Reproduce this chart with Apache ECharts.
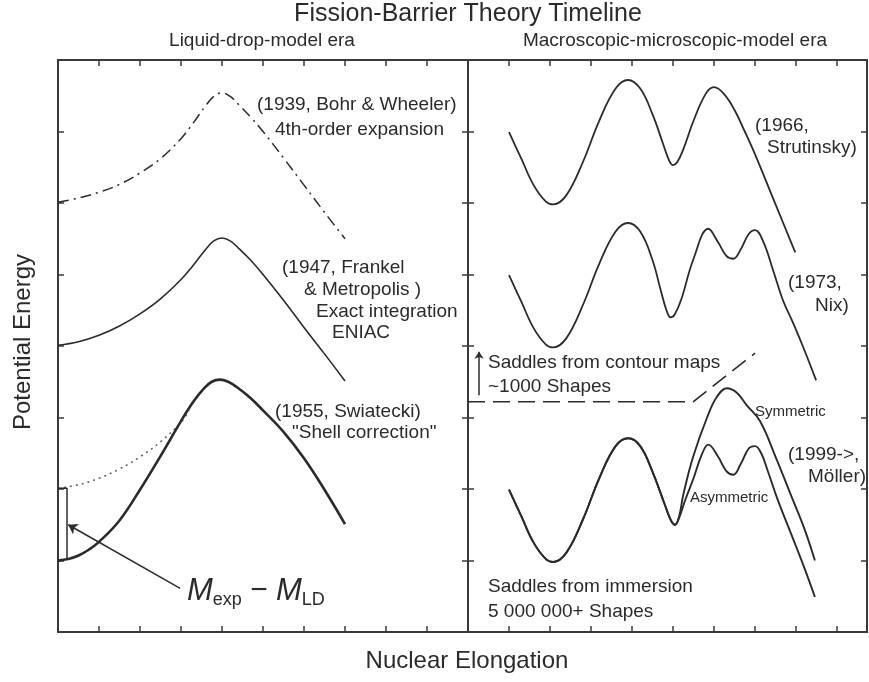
<!DOCTYPE html>
<html><head><meta charset="utf-8">
<script src="https://cdn.jsdelivr.net/npm/echarts@6/dist/echarts.min.js"></script>
<style>html,body{margin:0;padding:0;background:#fff}#c{width:869px;height:682px}</style>
</head><body><div id="c"></div>
<script>
// ---------- data (x in tick units, y in tick units) ----------
const bwX  = [0,0.5,1,1.5,2,2.5,3,3.3,3.6,3.8,4,4.2,4.4,4.7,5,5.5,6,6.5,7];
const bwY  = [6.01,6.07,6.15,6.26,6.42,6.62,6.9,7.12,7.36,7.49,7.54,7.49,7.38,7.2,7.0,6.63,6.25,5.87,5.5];
const fmX  = [0,0.5,1,1.5,2,2.5,3,3.3,3.6,3.8,4,4.2,4.4,4.7,5,5.5,6,6.5,7];
const fmY  = [4.01,4.06,4.15,4.28,4.45,4.66,4.93,5.13,5.35,5.47,5.51,5.47,5.37,5.2,5.0,4.64,4.26,3.89,3.51];
const swX  = [0,0.25,0.5,0.75,1,1.5,2,2.5,3,3.3,3.55,3.75,3.95,4.15,4.35,4.68,5,5.5,6,6.5,7];
const swY  = [1.0,1.02,1.07,1.15,1.26,1.56,1.99,2.46,2.95,3.22,3.4,3.5,3.53,3.5,3.43,3.28,3.1,2.8,2.43,1.99,1.51];
const ldX  = [0,0.5,1,1.5,2,2.5,3,3.2];
const ldY  = [2.01,2.06,2.15,2.28,2.45,2.66,2.93,3.1];
const brX  = [0,0.22,0.22];
const brY  = [2.01,2.01,1.03];
const mArrowX = [2.98,0.25];
const mArrowY = [0.61,1.5];

const stX = [1.0,1.3,1.6,1.9,2.08,2.4,2.8,3.2,3.6,3.9,4.2,4.5,4.75,4.9,5.0,5.1,5.25,5.5,5.8,6.0,6.25,6.5,6.75,7.0,7.5,7.98];
const stY = [6.99,6.62,6.25,6.02,5.98,6.11,6.57,7.15,7.6,7.72,7.6,7.24,6.84,6.6,6.53,6.57,6.75,7.15,7.53,7.62,7.52,7.3,7.0,6.68,5.98,5.31];
const nxX = [1.0,1.3,1.6,1.9,2.08,2.4,2.8,3.2,3.6,3.9,4.2,4.5,4.7,4.84,4.94,5.04,5.2,5.5,5.86,6.1,6.3,6.47,6.65,6.85,7.0,7.2,7.44,7.68,7.93,8.17,8.49];
const nxY = [4.99,4.62,4.25,4.02,3.98,4.11,4.57,5.15,5.6,5.72,5.6,5.2,4.78,4.5,4.4,4.44,4.65,5.22,5.64,5.45,5.26,5.22,5.35,5.57,5.62,5.46,5.06,4.64,4.32,3.99,3.52];
const symX = [1.0,1.3,1.6,1.9,2.08,2.4,2.8,3.2,3.6,3.91,4.2,4.5,4.8,4.95,5.05,5.15,5.25,5.49,5.83,6.07,6.31,6.55,6.8,7.12,7.5,7.9,8.2,8.46];
const symY = [1.99,1.62,1.25,1.02,0.98,1.11,1.57,2.15,2.6,2.71,2.6,2.24,1.78,1.56,1.5,1.62,1.92,2.45,3.0,3.29,3.41,3.35,3.17,2.95,2.45,1.88,1.45,1.0];
const asyX = [1.0,1.3,1.6,1.9,2.08,2.4,2.8,3.2,3.6,3.91,4.2,4.5,4.8,4.95,5.05,5.15,5.3,5.5,5.7,5.86,6.1,6.3,6.47,6.65,6.85,7.0,7.15,7.3,7.54,7.93,8.2,8.46];
const asyY = [1.99,1.62,1.25,1.02,0.98,1.11,1.57,2.15,2.6,2.71,2.6,2.24,1.78,1.56,1.5,1.6,1.85,2.15,2.48,2.62,2.45,2.25,2.2,2.35,2.57,2.6,2.5,2.27,1.87,1.3,0.9,0.49];
const cmX = [0,5.49,7.0];
const cmY = [3.22,3.22,3.9];
const upArrowX = [0.27,0.27];
const upArrowY = [3.31,3.92];

const leftXMax = 10, rightXMax = 9.73, yMax = 8;

// ---------- helpers ----------
const INK = '#2b2b2b';
const FF = '"Liberation Sans", Arial, Helvetica, sans-serif';
const zip = (xs, ys) => xs.map((x, i) => [x, ys[i]]);
function ax(g, pos, max) {
  return {
    type: 'value', gridIndex: g, position: pos, min: 0, max: max, interval: 1,
    axisLine: {show: true, onZero: false, lineStyle: {color: '#3a3a3a', width: 2}},
    axisTick: {show: true, inside: true, length: 6, lineStyle: {color: '#3a3a3a', width: 1.5}},
    axisLabel: {show: false}, splitLine: {show: false}
  };
}
function line(g, xs, ys, ls, smooth) {
  return {
    type: 'line', xAxisIndex: g * 2, yAxisIndex: g * 2, data: zip(xs, ys),
    showSymbol: false, symbol: 'none', smooth: smooth === undefined ? 0.4 : smooth,
    lineStyle: Object.assign({color: INK, width: 1.6}, ls), silent: true, z: 3
  };
}
function arrow(g, xs, ys, size) {
  return {
    type: 'lines', coordinateSystem: 'cartesian2d', xAxisIndex: g * 2, yAxisIndex: g * 2,
    symbol: ['none', 'arrow'], symbolSize: size, silent: true,
    lineStyle: {color: INK, width: 1.5, curveness: 0, opacity: 1},
    data: [{coords: zip(xs, ys)}]
  };
}
function T(text, x, y, size, align, extra) {
  return Object.assign({
    type: 'text', x: x, y: y, silent: true,
    style: {text: text, fontSize: size, fontFamily: FF, fill: INK,
            align: align || 'left', verticalAlign: 'middle'}
  }, extra || {});
}

const chart = echarts.init(document.getElementById('c'), null, {renderer: 'canvas'});
chart.setOption({
  animation: false,
  backgroundColor: '#fff',
  grid: [
    {left: 58, top: 60, width: 410, height: 572},
    {left: 468, top: 60, width: 399, height: 572}
  ],
  xAxis: [ax(0, 'bottom', leftXMax), ax(0, 'top', leftXMax),
          ax(1, 'bottom', rightXMax), ax(1, 'top', rightXMax)],
  yAxis: [ax(0, 'left', yMax), ax(0, 'right', yMax),
          ax(1, 'left', yMax), ax(1, 'right', yMax)],
  series: [
    line(0, bwX, bwY, {type: [11, 5, 2, 5], width: 1.5}),
    line(0, fmX, fmY, {width: 1.6}),
    line(0, ldX, ldY, {type: [2, 4], width: 1.6, color: '#666'}),
    line(0, swX, swY, {width: 2.6}),
    line(0, brX, brY, {width: 1.5}, false),
    arrow(0, mArrowX, mArrowY, 9),
    line(1, stX, stY, {width: 1.8}),
    line(1, nxX, nxY, {width: 1.8}),
    line(1, symX, symY, {width: 1.9}),
    line(1, asyX, asyY, {width: 1.9}),
    line(1, cmX, cmY, {type: [17, 8], width: 1.6}, false),
    arrow(1, upArrowX, upArrowY, 7)
  ],
  graphic: [
    T('Fission-Barrier Theory Timeline', 468, 14, 25, 'center'),
    T('Liquid-drop-model era', 262, 41, 19, 'center'),
    T('Macroscopic-microscopic-model era', 675, 41, 19, 'center'),
    T('Potential Energy', 23, 342, 24, 'center', {rotation: Math.PI / 2}),
    T('Nuclear Elongation', 467, 661, 24, 'center'),
    T('(1939, Bohr & Wheeler)', 257, 105, 19),
    T('4th-order expansion', 275, 130, 19),
    T('(1947, Frankel', 282, 268, 19),
    T('& Metropolis )', 304, 290, 19),
    T('Exact integration', 316, 312, 19),
    T('ENIAC', 332, 333, 19),
    T('(1955, Swiatecki)', 275, 412, 19),
    T('"Shell correction"', 292, 433, 19),
    T('(1966,', 755, 126, 19),
    T('Strutinsky)', 767, 148, 19),
    T('(1973,', 788, 283, 19),
    T('Nix)', 815, 306, 19),
    T('Saddles from contour maps', 488, 363, 19),
    T('~1000 Shapes', 488, 387, 19),
    T('Symmetric', 755, 412, 15),
    T('Asymmetric', 690, 498, 15),
    T('(1999->,', 788, 455, 19),
    T('Möller)', 808, 477, 19),
    T('Saddles from immersion', 488, 587, 19),
    T('5 000 000+ Shapes', 488, 612, 19),
    {
      type: 'text', x: 187, y: 591, silent: true,
      style: {
        text: '{m|M}{s|exp}{o| − }{m|M}{s|LD}',
        fontFamily: FF, fill: INK, align: 'left', verticalAlign: 'middle',
        rich: {
          m: {fontSize: 31, fontStyle: 'italic', fontFamily: FF, fill: INK, lineHeight: 36},
          o: {fontSize: 30, fontFamily: FF, fill: INK, lineHeight: 36},
          s: {fontSize: 18, fontFamily: FF, fill: INK, lineHeight: 20, verticalAlign: 'bottom'}
        }
      }
    }
  ]
});
</script></body></html>
